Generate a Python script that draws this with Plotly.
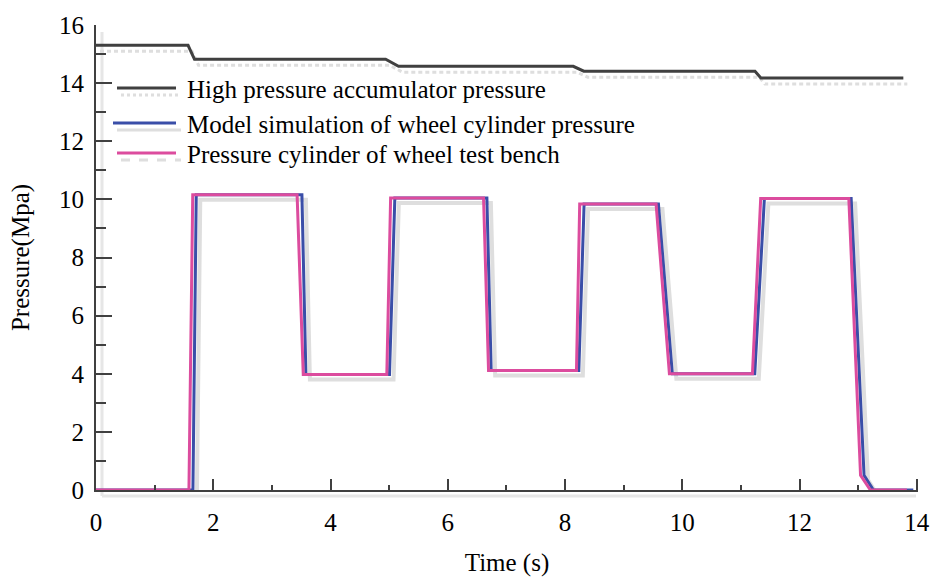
import plotly.graph_objects as go

# ---------------- data ----------------
t_accumulator = [0, 1.57, 1.68, 4.94, 5.16, 8.14, 8.32, 11.24, 11.34, 13.77]
p_accumulator = [15.3, 15.3, 14.82, 14.82, 14.58, 14.58, 14.41, 14.41, 14.18, 14.18]

t_model = [0, 1.653, 1.71, 3.512, 3.58, 5.006, 5.097, 6.667, 6.74, 8.235, 8.325,
           9.593, 9.83, 11.236, 11.40, 12.88, 13.10, 13.26, 13.94]
p_model = [0, 0, 10.16, 10.16, 3.97, 3.97, 10.05, 10.05, 4.11, 4.11, 9.84,
           9.84, 4.0, 4.0, 10.03, 10.03, 0.51, 0, 0]

t_bench = [0, 1.585, 1.65, 3.43, 3.535, 4.96, 5.025, 6.61, 6.695, 8.195, 8.25,
           9.553, 9.78, 11.196, 11.337, 12.84, 13.04, 13.207, 13.83]
p_bench = [0, 0, 10.16, 10.16, 3.97, 3.97, 10.05, 10.05, 4.11, 4.11, 9.84,
           9.84, 4.0, 4.0, 10.03, 10.03, 0.51, 0, 0]

series_names = ["High pressure accumulator pressure",
                "Model simulation of wheel cylinder pressure",
                "Pressure cylinder of wheel test bench"]
series_colors = ["#404040", "#3a4ea8", "#dc4c9e"]

x_ticks = [0, 2, 4, 6, 8, 10, 12, 14]
y_ticks = [0, 2, 4, 6, 8, 10, 12, 14, 16]

# ---------------- styling ----------------
FONT = "Liberation Serif"
FS = 25
SHADOW = "#dedede"
W, H = 932, 584
ML, MR, MT, MB = 96, 14, 25, 94
PW, PH = W - ML - MR, H - MT - MB
X_RANGE, Y_RANGE = [0, 14.02], [0, 16]
sdx = 4 * (X_RANGE[1] - X_RANGE[0]) / PW      # shadow offset (4 px right)
sdy = -5 * (Y_RANGE[1] - Y_RANGE[0]) / PH     # shadow offset (5 px down)

fig = go.Figure()

# shadows
fig.add_trace(go.Scatter(x=[v + sdx for v in t_accumulator], y=[v + 1.2 * sdy for v in p_accumulator],
                         mode="lines", line=dict(color=SHADOW, width=3, dash="4px,3px"),
                         showlegend=False, hoverinfo="skip"))
fig.add_trace(go.Scatter(x=[v + sdx for v in t_model], y=[v + sdy for v in p_model],
                         mode="lines", line=dict(color=SHADOW, width=4),
                         showlegend=False, hoverinfo="skip"))

# main series
fig.add_trace(go.Scatter(x=t_accumulator, y=p_accumulator, mode="lines", name=series_names[0],
                         line=dict(color=series_colors[0], width=3), showlegend=False))
fig.add_trace(go.Scatter(x=t_model, y=p_model, mode="lines", name=series_names[1],
                         line=dict(color=series_colors[1], width=3), showlegend=False))
fig.add_trace(go.Scatter(x=t_bench, y=p_bench, mode="lines", name=series_names[2],
                         line=dict(color=series_colors[2], width=3), showlegend=False))

# ---------------- hand-drawn legend (with shadows, as in reference) ----------------
def px_x(px):
    return (px - ML) / PW

def px_y(py):
    return (H - MB - py) / PH

legend_rows = [88, 123, 153]
legend_x0 = [117, 113, 117]
shadow_dash = ["dot", "solid", "dash"]
shapes = []
annotations = []
for i, name in enumerate(series_names):
    ry = legend_rows[i]
    shapes.append(dict(type="line", xref="paper", yref="paper",
                       x0=px_x(legend_x0[i] + 4), x1=px_x(181), y0=px_y(ry + 7), y1=px_y(ry + 7),
                       line=dict(color=SHADOW, width=3, dash=shadow_dash[i])))
    shapes.append(dict(type="line", xref="paper", yref="paper",
                       x0=px_x(legend_x0[i]), x1=px_x(176), y0=px_y(ry), y1=px_y(ry),
                       line=dict(color=series_colors[i], width=3)))
    annotations.append(dict(text=name, xref="paper", yref="paper", x=px_x(185), y=px_y(ry + 1),
                            xanchor="left", yanchor="middle", showarrow=False,
                            font=dict(family=FONT, size=FS, color="black")))

# axis shadows
shapes.append(dict(type="line", xref="paper", yref="paper", x0=px_x(102), x1=px_x(102),
                   y0=px_y(32), y1=px_y(496), line=dict(color="#e6e6e6", width=3), layer="below"))
shapes.append(dict(type="line", xref="paper", yref="paper", x0=px_x(102), x1=px_x(916),
                   y0=px_y(496), y1=px_y(496), line=dict(color="#e6e6e6", width=3), layer="below"))

fig.update_layout(
    width=W, height=H,
    margin=dict(l=ML, r=MR, t=MT, b=MB, autoexpand=False),
    paper_bgcolor="white", plot_bgcolor="white",
    font=dict(family=FONT, size=FS, color="black"),
    shapes=shapes, annotations=annotations,
    showlegend=False,
)

fig.update_xaxes(
    range=X_RANGE, tickvals=x_ticks, ticktext=[str(v) for v in x_ticks],
    showgrid=False, zeroline=False, showline=True, linecolor="#404040", linewidth=2,
    ticks="inside", ticklen=11, tickwidth=2, tickcolor="#404040",
    minor=dict(ticks="inside", ticklen=5, tickwidth=2, tickcolor="#404040", dtick=1, showgrid=False),
    ticklabelstandoff=9, automargin=False, ticklabeloverflow="allow",
    title=dict(text="Time (s)", standoff=18, font=dict(family=FONT, size=FS)),
    tickfont=dict(family=FONT, size=FS),
)
fig.update_yaxes(
    range=Y_RANGE, tickvals=y_ticks, ticktext=[str(v) for v in y_ticks],
    showgrid=False, zeroline=False, showline=True, linecolor="#404040", linewidth=2,
    ticks="inside", ticklen=16, tickwidth=2, tickcolor="#404040",
    minor=dict(ticks="inside", ticklen=10, tickwidth=2, tickcolor="#404040", dtick=1, showgrid=False),
    ticklabelstandoff=5, automargin=False, ticklabeloverflow="allow",
    title=dict(text="Pressure(Mpa)", standoff=22, font=dict(family=FONT, size=FS)),
    tickfont=dict(family=FONT, size=FS),
)

fig.write_html("out.html")
